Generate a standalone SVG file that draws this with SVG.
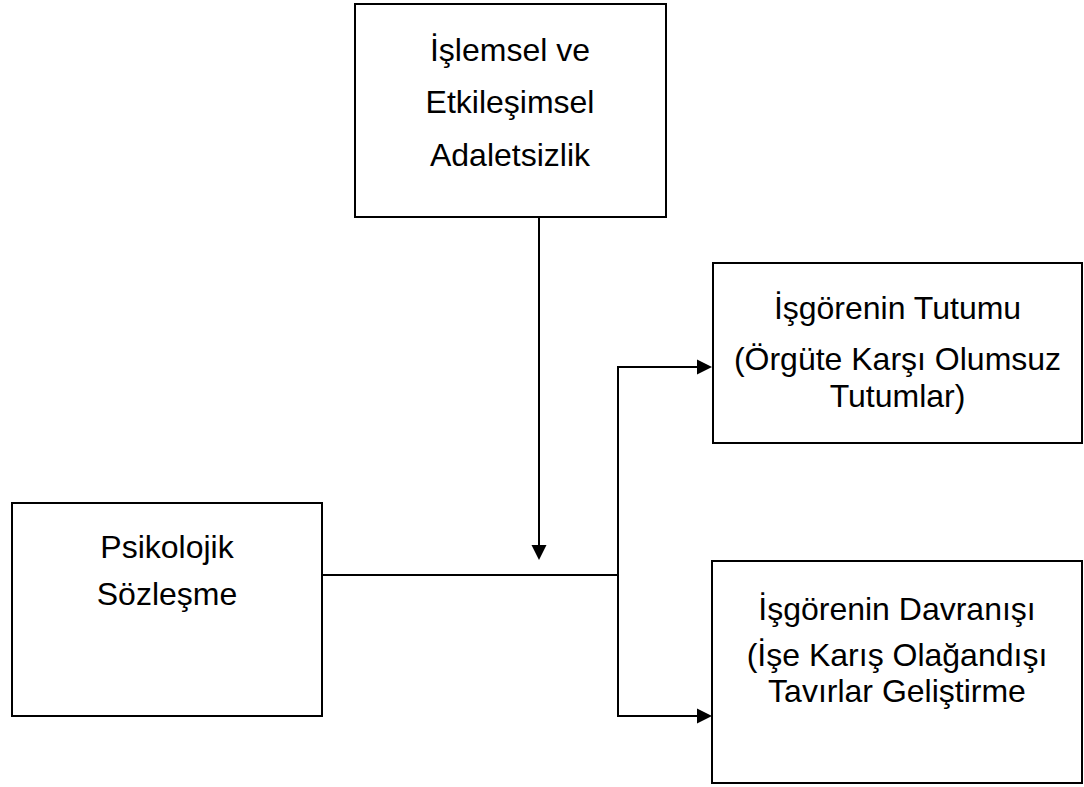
<svg xmlns="http://www.w3.org/2000/svg" width="1084" height="787" viewBox="0 0 1084 787">
<style>
.box{fill:#fff;stroke:#000;stroke-width:2}
.t{font-family:"Liberation Sans",Arial,sans-serif;font-size:32px;fill:#000;text-anchor:middle}
.c{fill:none;stroke:#000;stroke-width:2}
.ah{fill:#000}
</style>
<rect width="1084" height="787" fill="#fff"/>
<g id="connectors">
<line class="c" x1="539" y1="217" x2="539" y2="547"/>
<polygon class="ah" points="531.5,545 546.5,545 539,560"/>
<line class="c" x1="322" y1="575" x2="618" y2="575"/>
<polyline class="c" points="698,367 618,367 618,716 698,716"/>
<polygon class="ah" points="697,359.5 697,374.5 712,367"/>
<polygon class="ah" points="697,708.5 697,723.5 712,716"/>
</g>
<g id="node-adaletsizlik">
<rect class="box" x="355" y="4" width="311" height="213"/>
<text class="t" x="510" y="61">İşlemsel ve</text>
<text class="t" x="510" y="113">Etkileşimsel</text>
<text class="t" x="510" y="166">Adaletsizlik</text>
</g>
<g id="node-psikolojik">
<rect class="box" x="12" y="503" width="310" height="213"/>
<text class="t" x="167" y="558">Psikolojik</text>
<text class="t" x="167" y="605">Sözleşme</text>
</g>
<g id="node-tutum">
<rect class="box" x="713" y="263" width="369" height="180"/>
<text class="t" x="897.5" y="319">İşgörenin Tutumu</text>
<text class="t" x="897.5" y="370">(Örgüte Karşı Olumsuz</text>
<text class="t" x="897.5" y="407">Tutumlar)</text>
</g>
<g id="node-davranis">
<rect class="box" x="712" y="561" width="370" height="222"/>
<text class="t" x="897" y="620">İşgörenin Davranışı</text>
<text class="t" x="897" y="666">(İşe Karış Olağandışı</text>
<text class="t" x="897" y="702">Tavırlar Geliştirme</text>
</g>
</svg>
